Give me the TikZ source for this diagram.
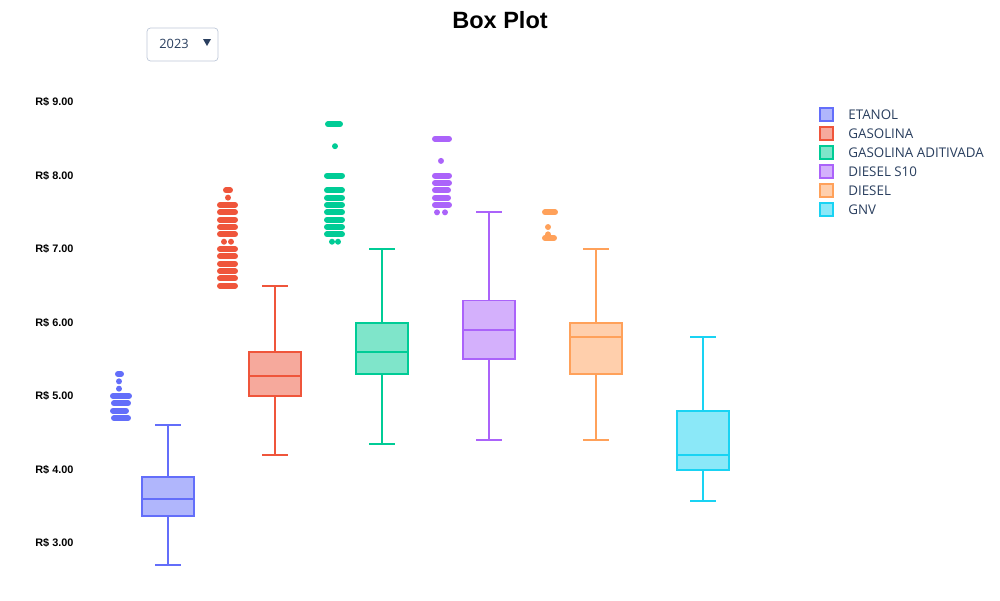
\documentclass[tikz,border=0pt]{standalone}
\usepackage{fontspec}
\setmainfont{Liberation Sans}
\newfontfamily\plotfont{Open Sans}
\usetikzlibrary{positioning,calc}
\definecolor{etanol}{HTML}{636EFA}
\definecolor{gasolina}{HTML}{EF553B}
\definecolor{aditivada}{HTML}{00CC96}
\definecolor{dieselsdez}{HTML}{AB63FA}
\definecolor{diesel}{HTML}{FFA15A}
\definecolor{gnv}{HTML}{19D3F3}
\definecolor{plottext}{HTML}{2A3F5F}
\definecolor{menuline}{HTML}{BEC8D9}
\tikzset{
  boxline/.style={line width=1.1pt},
  dotrow/.style={line width=3.4pt,line cap=round},
  ticklabel/.style={font=\fontsize{6.2}{7}\selectfont\bfseries,anchor=west,inner sep=0pt},
  legendlabel/.style={font=\plotfont\fontsize{7.6}{9}\selectfont,text=plottext,anchor=west,inner sep=0pt},
  swatch/.style={line width=1.1pt,fill opacity=0.5,draw opacity=1}
}

\begin{document}
\begin{tikzpicture}[x=0.02cm,y=0.02cm]
\useasboundingbox[fill=white] (0,0) rectangle (1000,600);
\node[font=\fontsize{13.4}{16}\selectfont\bfseries] (title) at (500,580) {Box Plot};
\draw[menuline,rounded corners=2pt] (147,572) rectangle (218,539);
\node[legendlabel,font=\plotfont\fontsize{7.3}{9}\selectfont] (year) at (159,556) {2023};
\fill[plottext] (203,561) -- (211,561) -- (207,554) -- cycle;
\foreach \v in {3,...,9}
  \node[ticklabel] (tick\v) at (35,{-163.5+73.5*\v}) {R\$ \v.00};
\foreach \c/\t [count=\i] in {etanol/ETANOL,gasolina/GASOLINA,aditivada/GASOLINA ADITIVADA,dieselsdez/DIESEL S10,diesel/DIESEL,gnv/GNV} {
  \filldraw[swatch,draw=\c,fill=\c] (820,{600-108-19*(\i-1)}) rectangle (833,{600-121-19*(\i-1)});
  \node[legendlabel] (legend\i) at (848,{600-114.5-19*(\i-1)}) {\t};
}
\begin{scope}[y=1.47cm,yshift=-3.27cm]
\foreach \c/\x/\lo/\qa/\me/\qb/\hi in {etanol/168/2.7/3.37/3.6/3.9/4.6,
    gasolina/275/4.2/5.0/5.27/5.6/6.5, aditivada/382/4.35/5.3/5.6/6.0/7.0,
    dieselsdez/489/4.4/5.5/5.9/6.3/7.5, diesel/596/4.4/5.3/5.8/6.0/7.0,
    gnv/703/3.57/4.0/4.2/4.8/5.8} {
  \draw[boxline,\c] (\x,\lo) -- (\x,\qa) (\x,\qb) -- (\x,\hi);
  \draw[boxline,\c] (\x-13,\lo) -- (\x+13,\lo) (\x-13,\hi) -- (\x+13,\hi);
  \filldraw[boxline,draw=\c,fill=\c,fill opacity=0.5] (\x-26,\qa) rectangle (\x+26,\qb);
  \draw[boxline,\c] (\x-26,\me) -- (\x+26,\me);
}
% outliers
\foreach \v/\a/\b in {5.3/118/121,5.2/119/119,5.1/119/119,5.0/113/129,4.9/114/128,4.8/113/126,4.7/114/128}
  \draw[dotrow,etanol] (\a,\v) -- (\b,\v);
\foreach \v/\a/\b in {7.8/226/230,7.7/228/228,7.6/220/235,7.5/220/235,7.4/220/235,7.3/220/235,7.2/220/235,
    7.1/224/224,7.1/231/231,7.0/220/235,6.9/220/235,6.8/220/235,6.7/220/235,6.6/220/235,6.5/220/235}
  \draw[dotrow,gasolina] (\a,\v) -- (\b,\v);
\foreach \v/\a/\b in {8.7/328/340,8.4/335/335,8.0/327/342,7.8/327/342,7.7/327/342,7.6/327/342,7.5/327/342,
    7.4/327/342,7.3/327/342,7.2/327/342,7.1/332/332,7.1/338/338}
  \draw[dotrow,aditivada] (\a,\v) -- (\b,\v);
\foreach \v/\a/\b in {8.5/435/449,8.2/441/441,8.0/435/449,7.9/435/449,7.8/435/448,7.7/435/448,7.6/435/449,
    7.5/437/437,7.5/445/445}
  \draw[dotrow,dieselsdez] (\a,\v) -- (\b,\v);
\foreach \v/\a/\b in {7.5/545/555,7.3/548/548,7.2/548/548,7.15/545/554}
  \draw[dotrow,diesel] (\a,\v) -- (\b,\v);
\end{scope}
\end{tikzpicture}
\end{document}
